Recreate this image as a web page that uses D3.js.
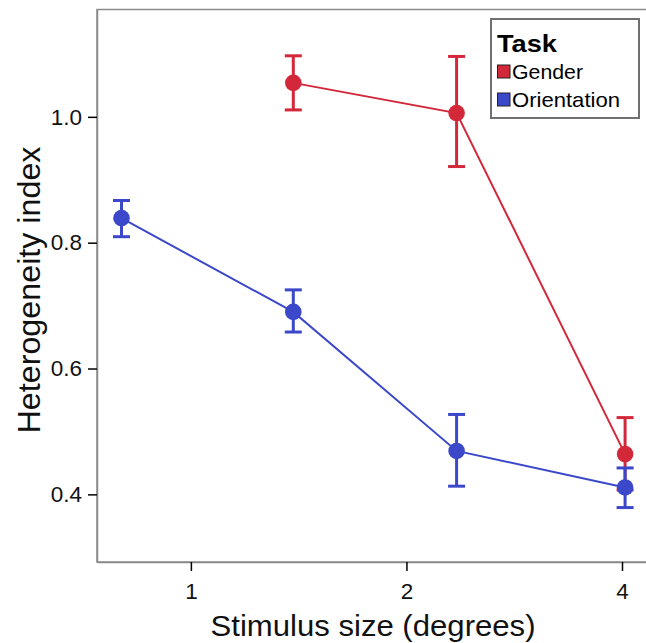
<!DOCTYPE html>
<html>
<head>
<meta charset="utf-8">
<script src="https://cdn.jsdelivr.net/npm/d3@7"></script>
<style>
  html, body { margin: 0; padding: 0; background: #fff; }
  text { font-family: "Liberation Sans", Arial, sans-serif; }
</style>
</head>
<body>
<svg id="chart" width="646" height="643"></svg>
<script>
// ---- data ----
const sizes = [0.8, 1.39, 2.35, 4.04];           // stimulus size (degrees)
const xTicks = [1, 2, 4];
const yTicks = [0.4, 0.6, 0.8, 1.0];

const orientationSizes = [0.8, 1.39, 2.35, 4.04];
const orientationMean  = [0.839, 0.690, 0.469, 0.411];
const orientationLow   = [0.8095, 0.658, 0.413, 0.379];
const orientationHigh  = [0.867, 0.725, 0.527, 0.442];

const genderSizes = [1.39, 2.35, 4.04];
const genderMean  = [1.054, 1.006, 0.464];
const genderLow   = [1.011, 0.921, 0.407];
const genderHigh  = [1.097, 1.096, 0.522];

const seriesNames = ["Gender", "Orientation"];
const seriesColors = ["#d3283a", "#3b48c9"];

// ---- layout ----
const svg = d3.select("#chart");
const L = 97, R = 660, T = 9.5, B = 562;

const x = d3.scaleLog().domain([0.7394, 4.52]).range([L, R]);
const y = d3.scaleLinear().domain([0.2925, 1.1706]).range([B, T]);

// plot frame (top border; right border is off-canvas)
svg.append("rect")
  .attr("x", L).attr("y", T).attr("width", R - L).attr("height", B - T)
  .attr("fill", "none").attr("stroke", "#8a8a8a").attr("stroke-width", 1.5);

// axes
const yAxis = d3.axisLeft(y).tickValues(yTicks).tickFormat(d3.format(".1f"))
  .tickSizeInner(9).tickSizeOuter(0).tickPadding(6);
const gy = svg.append("g").attr("transform", `translate(${L},0)`).call(yAxis);
gy.select(".domain").attr("stroke", "#8a8a8a").attr("stroke-width", 1.5);
gy.selectAll(".tick line").attr("stroke", "#000").attr("stroke-width", 1.5);
gy.selectAll(".tick text").attr("font-size", 22.5).attr("fill", "#111")
  .attr("font-family", "Liberation Sans, Arial, sans-serif");

const xAxis = d3.axisBottom(x).tickValues(xTicks).tickFormat(d3.format("d"))
  .tickSizeInner(9).tickSizeOuter(0).tickPadding(12);
const gx = svg.append("g").attr("transform", `translate(0,${B})`).call(xAxis);
gx.select(".domain").attr("stroke", "#8a8a8a").attr("stroke-width", 1.5);
gx.selectAll(".tick line").attr("stroke", "#000").attr("stroke-width", 1.5);
gx.selectAll(".tick text").attr("font-size", 22.5).attr("fill", "#111")
  .attr("font-family", "Liberation Sans, Arial, sans-serif");

// axis titles
svg.append("text")
  .attr("x", 373).attr("y", 636)
  .attr("text-anchor", "middle")
  .attr("font-size", 29)
  .attr("textLength", 325).attr("lengthAdjust", "spacingAndGlyphs")
  .attr("fill", "#111")
  .text("Stimulus size (degrees)");

svg.append("text")
  .attr("transform", "translate(40,290) rotate(-90)")
  .attr("text-anchor", "middle")
  .attr("font-size", 31)
  .attr("textLength", 287).attr("lengthAdjust", "spacingAndGlyphs")
  .attr("fill", "#111")
  .text("Heterogeneity index");

// ---- series ----
function drawSeries(xs, mean, lo, hi, color) {
  const pts = xs.map((s, i) => ({ s, m: mean[i], lo: lo[i], hi: hi[i] }));
  const g = svg.append("g");
  g.append("path")
    .datum(pts)
    .attr("fill", "none").attr("stroke", color).attr("stroke-width", 2)
    .attr("d", d3.line().x(d => x(d.s)).y(d => y(d.m)));
  const eb = g.selectAll(".eb").data(pts).enter().append("g");
  eb.append("line")
    .attr("x1", d => x(d.s)).attr("x2", d => x(d.s))
    .attr("y1", d => y(d.lo)).attr("y2", d => y(d.hi))
    .attr("stroke", color).attr("stroke-width", 3);
  eb.append("line")
    .attr("x1", d => x(d.s) - 8.5).attr("x2", d => x(d.s) + 8.5)
    .attr("y1", d => y(d.lo)).attr("y2", d => y(d.lo))
    .attr("stroke", color).attr("stroke-width", 3);
  eb.append("line")
    .attr("x1", d => x(d.s) - 8.5).attr("x2", d => x(d.s) + 8.5)
    .attr("y1", d => y(d.hi)).attr("y2", d => y(d.hi))
    .attr("stroke", color).attr("stroke-width", 3);
  eb.append("circle")
    .attr("cx", d => x(d.s)).attr("cy", d => y(d.m)).attr("r", 8.3)
    .attr("fill", color);
}
drawSeries(genderSizes, genderMean, genderLow, genderHigh, seriesColors[0]);
drawSeries(orientationSizes, orientationMean, orientationLow, orientationHigh, seriesColors[1]);

// ---- legend ----
const lg = svg.append("g");
lg.append("rect")
  .attr("x", 491).attr("y", 19).attr("width", 148).attr("height", 99)
  .attr("fill", "#fff").attr("stroke", "#707070").attr("stroke-width", 2);
lg.append("text")
  .attr("x", 497).attr("y", 52)
  .attr("font-size", 24).attr("font-weight", "bold").attr("fill", "#000")
  .attr("textLength", 60).attr("lengthAdjust", "spacingAndGlyphs")
  .text("Task");
const legendLens = [71, 108];
seriesNames.forEach((name, i) => {
  const yy = 65 + i * 28;
  lg.append("rect")
    .attr("x", 497.5).attr("y", yy).attr("width", 12.5).attr("height", 13)
    .attr("fill", seriesColors[i]).attr("stroke", "#222").attr("stroke-width", 1);
  lg.append("text")
    .attr("x", 512).attr("y", yy + 13.5)
    .attr("font-size", 21).attr("fill", "#000")
    .attr("textLength", legendLens[i]).attr("lengthAdjust", "spacingAndGlyphs")
    .text(name);
});
</script>
</body>
</html>
